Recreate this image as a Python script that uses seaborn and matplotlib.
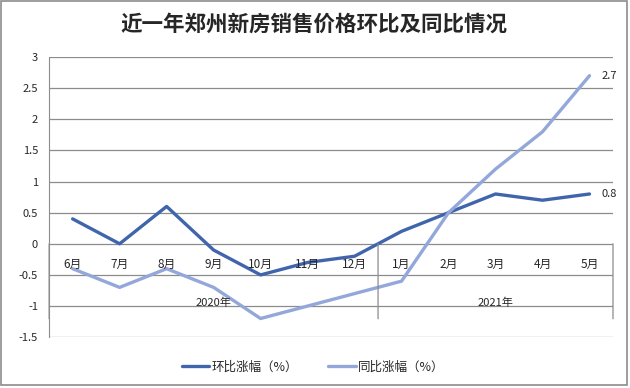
import pandas as pd
import seaborn as sns
import matplotlib.pyplot as plt
from matplotlib.patches import Rectangle

months = ['6月', '7月', '8月', '9月', '10月', '11月', '12月', '1月', '2月', '3月', '4月', '5月']
years = ['2020年', '2021年']
year_span = [(0, 6), (7, 11)]
mom = [0.4, 0.0, 0.6, -0.1, -0.5, -0.3, -0.2, 0.2, 0.5, 0.8, 0.7, 0.8]
yoy = [-0.4, -0.7, -0.4, -0.7, -1.2, -1.0, -0.8, -0.6, 0.5, 1.2, 1.8, 2.7]
series_names = ['环比涨幅（%）', '同比涨幅（%）']
colors = ['#4065AD', '#93A7DA']

sns.set_style('white')
plt.rcParams['font.family'] = ['Noto Sans CJK SC', 'DejaVu Sans']

df = pd.DataFrame({
    'pos': list(range(len(months))) * 2,
    'value': mom + yoy,
    'series': [series_names[0]] * len(months) + [series_names[1]] * len(months),
})

fig = plt.figure(figsize=(6.3, 3.88), dpi=100)
ax = fig.add_axes([0.078, 0.131, 0.895, 0.722])

sns.lineplot(data=df, x='pos', y='value', hue='series', palette=colors,
             linewidth=2.4, ax=ax, legend=False)

ax.set_xlim(-0.5, 11.5)
ax.set_ylim(-1.5, 3)
ax.set_yticks([-1.5, -1, -0.5, 0, 0.5, 1, 1.5, 2, 2.5, 3])
ax.set_yticklabels(['-1.5', '-1', '-0.5', '0', '0.5', '1', '1.5', '2', '2.5', '3'], fontsize=8)
ax.set_xticks([])
ax.set_xlabel('')
ax.set_ylabel('')
ax.tick_params(axis='y', length=0, pad=8)
ax.grid(axis='y', color='#8C8C8C', linewidth=0.9)
ax.set_axisbelow(True)
for side in ['top', 'right', 'bottom']:
    ax.spines[side].set_visible(False)
ax.spines['left'].set_color('#8C8C8C')

# category labels along the zero line
for i, m in enumerate(months):
    ax.annotate(m, (i, 0), xytext=(0, -15), textcoords='offset points',
                ha='center', va='center', fontsize=8.5, annotation_clip=False)
for (a, b), y in zip(year_span, years):
    ax.annotate(y, ((a + b) / 2, 0), xytext=(0, -42.5), textcoords='offset points',
                ha='center', va='center', fontsize=8, annotation_clip=False)
# group separators below the category axis
for xs in [-0.5, 6.5, 11.5]:
    ax.annotate('', xy=(xs, 0), xycoords='data', xytext=(0, -54),
                textcoords='offset points', annotation_clip=False,
                arrowprops=dict(arrowstyle='-', color='#8C8C8C', lw=0.9,
                                shrinkA=0, shrinkB=0))

# end labels
ax.annotate(f'{yoy[-1]:.1f}', (len(months) - 1, yoy[-1]), xytext=(9, 0),
            textcoords='offset points', ha='left', va='center', fontsize=8,
            annotation_clip=False)
ax.annotate(f'{mom[-1]:.1f}', (len(months) - 1, mom[-1]), xytext=(9, 0),
            textcoords='offset points', ha='left', va='center', fontsize=8,
            annotation_clip=False)

fig.text(0.498, 0.938, '近一年郑州新房销售价格环比及同比情况', ha='center', va='center',
         fontsize=15.5, fontweight='bold')

handles = [plt.Line2D([], [], color=c, linewidth=2.4) for c in colors]
fig.legend(handles, series_names, loc='center', bbox_to_anchor=(0.497, 0.054),
           ncol=2, frameon=False, fontsize=9, handlelength=2.2,
           columnspacing=2.4, handletextpad=0.2)

fig.patches.append(Rectangle((0.002, 0.007), 0.993, 0.99, transform=fig.transFigure,
                             fill=False, edgecolor='#8C8C8C', linewidth=1.2))

plt.savefig('out.png', dpi=100)
